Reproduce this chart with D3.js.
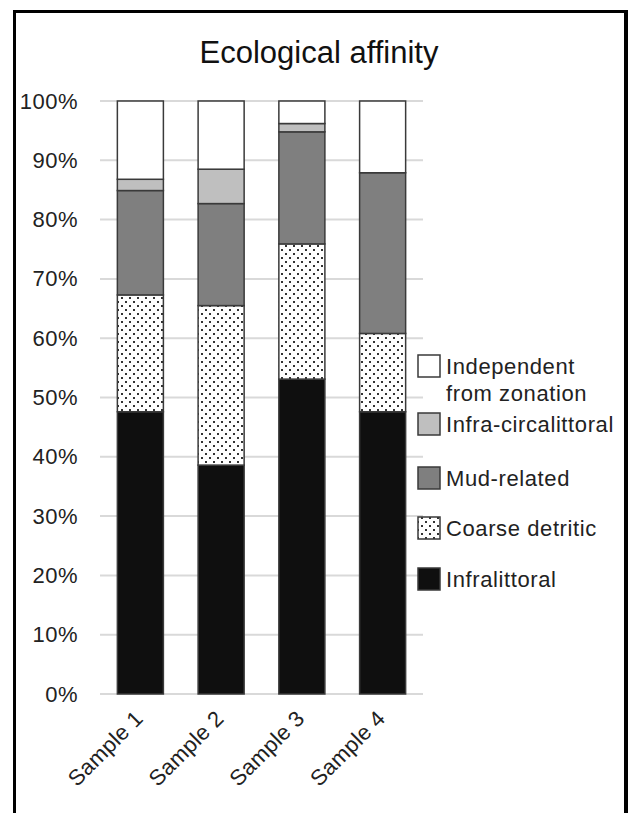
<!DOCTYPE html>
<html>
<head>
<meta charset="utf-8">
<script src="https://cdn.jsdelivr.net/npm/d3@7"></script>
<style>
  html, body { margin: 0; padding: 0; background: #fff; }
  svg { display: block; font-family: "Liberation Sans", Arial, sans-serif; }
</style>
</head>
<body>
<svg id="chart" width="630" height="813"></svg>
<script>
// Samples along the x axis
const samples = ["Sample 1", "Sample 2", "Sample 3", "Sample 4"];

// Ecological affinity groups, bottom to top of each stack
const groups = ["Infralittoral", "Coarse detritic", "Mud-related", "Infra-circalittoral", "Independent from zonation"];

// Share of each group per sample (%)
const infralittoral   = [47.6, 38.6, 53.1, 47.6];
const coarseDetritic  = [19.7, 26.9, 22.8, 13.2];
const mudRelated      = [17.6, 17.2, 18.9, 27.1];
const infraCirca      = [1.9, 5.8, 1.4, 0];
const independent     = [13.2, 11.5, 3.8, 12.1];

// Y tick values and labels
const yTicks = [0, 10, 20, 30, 40, 50, 60, 70, 80, 90, 100];

const seriesValues = [infralittoral, coarseDetritic, mudRelated, infraCirca, independent];
const rows = samples.map((s, i) => {
  const r = { sample: s };
  groups.forEach((g, k) => { r[g] = seriesValues[k][i]; });
  return r;
});

const svg = d3.select("#chart");

// dotted fill for the coarse detritic layer
const defs = svg.append("defs");
const pat = defs.append("pattern")
  .attr("id", "dots").attr("patternUnits", "userSpaceOnUse")
  .attr("width", 8).attr("height", 8);
pat.append("rect").attr("width", 8).attr("height", 8).attr("fill", "#fff");
pat.append("rect").attr("x", 1).attr("y", 1).attr("width", 2).attr("height", 2).attr("fill", "#333");
pat.append("rect").attr("x", 5).attr("y", 5).attr("width", 2).attr("height", 2).attr("fill", "#333");

const fills = {
  "Infralittoral": "#0f0f0f",
  "Coarse detritic": "url(#dots)",
  "Mud-related": "#7f7f7f",
  "Infra-circalittoral": "#bfbfbf",
  "Independent from zonation": "#ffffff"
};

// outer frame (open at the bottom)
svg.append("path")
  .attr("d", "M14.5,813 V11.5 H625.5 V813")
  .attr("fill", "none").attr("stroke", "#000").attr("stroke-width", 3);
svg.append("line")
  .attr("x1", 626.5).attr("x2", 626.5).attr("y1", 10).attr("y2", 813)
  .attr("stroke", "#000").attr("stroke-width", 3);

// title
svg.append("text")
  .attr("x", 319).attr("y", 63)
  .attr("text-anchor", "middle")
  .attr("font-size", 31).attr("fill", "#111")
  .text("Ecological affinity");

const x = d3.scaleBand().domain(samples).range([100, 423])
  .paddingInner(0.43).paddingOuter(0.215);
const y = d3.scaleLinear().domain([0, 100]).range([694, 101]);

// gridlines
svg.append("g").selectAll("line").data(yTicks).join("line")
  .attr("x1", 100).attr("x2", 423)
  .attr("y1", d => y(d)).attr("y2", d => y(d))
  .attr("stroke", "#d9d9d9").attr("stroke-width", 2);

// y axis labels
const yAxis = d3.axisLeft(y).tickValues(yTicks).tickFormat(d => d + "%").tickSize(0).tickPadding(0);
const yg = svg.append("g").attr("transform", "translate(78,0)").call(yAxis);
yg.select(".domain").remove();
yg.selectAll("text").attr("font-size", 22).attr("fill", "#222")
  .attr("letter-spacing", 0.5)
  .attr("font-family", "'Liberation Sans', Arial, sans-serif");

// stacked bars
const stack = d3.stack().keys(groups);
const layers = stack(rows);
svg.append("g").selectAll("g").data(layers).join("g")
  .attr("fill", d => fills[d.key])
  .selectAll("rect").data(d => d.filter(p => p[1] - p[0] > 0)).join("rect")
  .attr("x", d => x(d.data.sample))
  .attr("width", x.bandwidth())
  .attr("y", d => y(d[1]))
  .attr("height", d => y(d[0]) - y(d[1]))
  .attr("stroke", "#3a3a3a").attr("stroke-width", 1.5);

// x axis labels, rotated
const xg = svg.append("g");
xg.selectAll("text").data(samples).join("text")
  .attr("transform", d => `translate(${x(d) + x.bandwidth() / 2 + 4},${720}) rotate(-45)`)
  .attr("text-anchor", "end")
  .attr("font-size", 22).attr("fill", "#222")
  .attr("letter-spacing", 0.3)
  .text(d => d);

// legend, top entry first
const legendItems = [
  { key: "Independent from zonation", lines: ["Independent", "from zonation"], top: 355 },
  { key: "Infra-circalittoral", lines: ["Infra-circalittoral"], top: 413 },
  { key: "Mud-related", lines: ["Mud-related"], top: 467 },
  { key: "Coarse detritic", lines: ["Coarse detritic"], top: 517 },
  { key: "Infralittoral", lines: ["Infralittoral"], top: 568 }
];
const lg = svg.append("g").selectAll("g").data(legendItems).join("g");
lg.append("rect")
  .attr("x", 418).attr("y", d => d.top).attr("width", 22).attr("height", 22)
  .attr("fill", d => fills[d.key]).attr("stroke", "#3a3a3a").attr("stroke-width", 1.5);
lg.append("text")
  .attr("x", 446).attr("y", d => d.top + 19)
  .attr("font-size", 22).attr("fill", "#222")
  .attr("letter-spacing", 0.6)
  .selectAll("tspan").data(d => d.lines).join("tspan")
  .attr("x", 446).attr("dy", (d, i) => i === 0 ? 0 : 27)
  .text(d => d);
</script>
</body>
</html>
